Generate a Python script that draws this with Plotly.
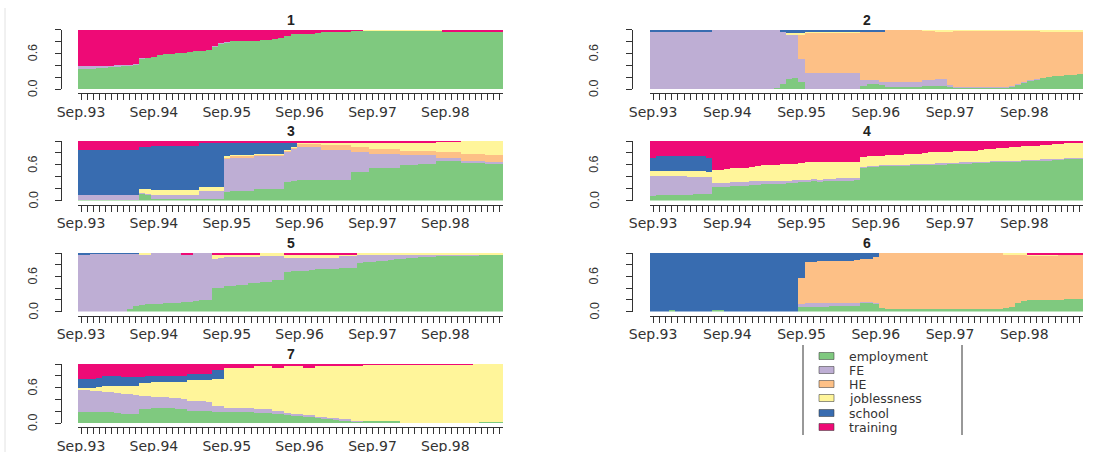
import plotly.graph_objects as go

# ---------------------------------------------------------------------------
# State distribution by month (Sep.93 - Jun.99) for seven clusters
# ---------------------------------------------------------------------------
states = ["employment", "FE", "HE", "joblessness", "school", "training"]
state_colors = ["#7FC97F", "#BEAED4", "#FDC086", "#FFF59A", "#386CB0", "#EE0A76"]

month_abbr = ["Sep", "Oct", "Nov", "Dec", "Jan", "Feb", "Mar", "Apr", "May", "Jun", "Jul", "Aug"]
periods = []
for k in range(70):
    yr = 93 + (k + 8) // 12
    periods.append(f"{month_abbr[k % 12]}.{yr % 100:02d}")
tick_labels = [p if p.startswith("Sep") else "" for p in periods]

# ---- cluster 1 -------------------------------------------------------------
c1_employment = [0.34, 0.34, 0.35, 0.36, 0.37, 0.38, 0.39, 0.40, 0.41, 0.42,
                 0.52, 0.53, 0.55, 0.58, 0.59, 0.60, 0.61, 0.62, 0.63, 0.64,
                 0.65, 0.67, 0.72, 0.77, 0.79, 0.81, 0.81, 0.81, 0.82, 0.82,
                 0.83, 0.84, 0.85, 0.86, 0.90, 0.93, 0.93, 0.94, 0.94, 0.95,
                 0.96, 0.96, 0.97, 0.97, 0.98, 0.99, 0.99, 0.99, 0.99, 0.99,
                 0.99, 0.99, 0.99, 0.99, 0.99, 0.99, 0.99, 0.99, 0.99, 0.99,
                 0.98, 0.98, 0.98, 0.98, 0.98, 0.98, 0.98, 0.98, 0.98, 0.98]
c1_FE = [0.06, 0.06, 0.05, 0.04, 0.03, 0.02, 0.02, 0.01, 0.01, 0.01,
         0.01, 0, 0, 0, 0, 0, 0, 0, 0, 0,
         0, 0, 0.01, 0.01, 0.01, 0, 0, 0, 0, 0,
         0, 0, 0, 0, 0, 0, 0, 0, 0, 0,
         0, 0, 0, 0, 0, 0, 0, 0, 0, 0,
         0, 0, 0, 0, 0, 0, 0, 0, 0, 0,
         0, 0, 0, 0, 0, 0, 0, 0, 0, 0]
c1_HE = [0, 0, 0, 0, 0, 0, 0, 0, 0, 0,
         0, 0, 0, 0, 0, 0, 0, 0, 0, 0,
         0, 0, 0, 0, 0, 0, 0, 0, 0, 0,
         0, 0, 0, 0, 0, 0, 0, 0, 0, 0,
         0, 0, 0, 0, 0, 0, 0, 0, 0, 0,
         0, 0, 0, 0, 0, 0, 0, 0, 0, 0,
         0, 0, 0, 0, 0, 0, 0, 0, 0, 0]
c1_joblessness = [0, 0, 0, 0, 0, 0, 0, 0, 0, 0,
                  0, 0, 0, 0, 0, 0, 0, 0, 0, 0,
                  0, 0, 0, 0, 0, 0, 0, 0, 0, 0,
                  0, 0, 0, 0, 0, 0, 0, 0, 0, 0,
                  0, 0, 0, 0, 0, 0, 0, 0.01, 0.01, 0.01,
                  0.01, 0.01, 0.01, 0.01, 0.01, 0.01, 0.01, 0.01, 0.01, 0.01,
                  0, 0, 0, 0, 0, 0, 0, 0, 0, 0]
c1_school = [0, 0, 0, 0, 0, 0, 0, 0, 0, 0,
             0, 0, 0, 0, 0, 0, 0, 0, 0, 0,
             0, 0, 0, 0, 0, 0, 0, 0, 0, 0,
             0, 0, 0, 0, 0, 0, 0, 0, 0, 0,
             0, 0, 0, 0, 0, 0, 0, 0, 0, 0,
             0, 0, 0, 0, 0, 0, 0, 0, 0, 0,
             0, 0, 0, 0, 0, 0, 0, 0, 0, 0]
c1_training = [0.60, 0.60, 0.60, 0.60, 0.60, 0.60, 0.59, 0.59, 0.58, 0.57,
               0.47, 0.47, 0.45, 0.42, 0.41, 0.40, 0.39, 0.38, 0.37, 0.36,
               0.35, 0.33, 0.27, 0.22, 0.20, 0.19, 0.19, 0.19, 0.18, 0.18,
               0.17, 0.16, 0.15, 0.14, 0.10, 0.07, 0.07, 0.06, 0.06, 0.05,
               0.04, 0.04, 0.03, 0.03, 0.02, 0.01, 0.01, 0, 0, 0,
               0, 0, 0, 0, 0, 0, 0, 0, 0, 0,
               0.02, 0.02, 0.02, 0.02, 0.02, 0.02, 0.02, 0.02, 0.02, 0.02]

# ---- cluster 2 -------------------------------------------------------------
c2_employment = [0, 0, 0, 0, 0, 0, 0, 0, 0, 0.01,
                 0.01, 0.01, 0, 0, 0, 0, 0, 0, 0, 0,
                 0.02, 0.10, 0.18, 0.20, 0.12, 0.01, 0.01, 0.01, 0.01, 0.01,
                 0.01, 0.01, 0.01, 0.01, 0.06, 0.10, 0.10, 0.07, 0.05, 0.05,
                 0.05, 0.05, 0.05, 0.05, 0.06, 0.06, 0.06, 0.06, 0.05, 0.03,
                 0.03, 0.03, 0.03, 0.03, 0.03, 0.04, 0.04, 0.04, 0.05, 0.08,
                 0.12, 0.15, 0.17, 0.19, 0.21, 0.22, 0.23, 0.24, 0.25, 0.26]
c2_FE = [0.98, 0.98, 0.98, 0.98, 0.98, 0.98, 0.98, 0.98, 0.98, 0.97,
         0.99, 0.99, 1.00, 1.00, 1.00, 1.00, 1.00, 1.00, 1.00, 1.00,
         0.98, 0.88, 0.74, 0.72, 0.40, 0.26, 0.26, 0.26, 0.26, 0.26,
         0.26, 0.26, 0.26, 0.26, 0.10, 0.06, 0.06, 0.06, 0.07, 0.07,
         0.07, 0.07, 0.07, 0.07, 0.10, 0.10, 0.11, 0.11, 0.03, 0.01,
         0.01, 0.01, 0.01, 0.01, 0.01, 0.01, 0.01, 0.01, 0.01, 0.01,
         0.01, 0.01, 0.01, 0, 0, 0, 0, 0, 0, 0]
c2_HE = [0, 0, 0, 0, 0, 0, 0, 0, 0, 0,
         0, 0, 0, 0, 0, 0, 0, 0, 0, 0,
         0, 0, 0, 0, 0.40, 0.68, 0.68, 0.68, 0.68, 0.68,
         0.68, 0.68, 0.68, 0.68, 0.80, 0.80, 0.80, 0.84, 0.88, 0.88,
         0.88, 0.88, 0.88, 0.88, 0.83, 0.83, 0.81, 0.81, 0.90, 0.95,
         0.95, 0.95, 0.95, 0.95, 0.95, 0.94, 0.94, 0.94, 0.93, 0.90,
         0.86, 0.83, 0.81, 0.79, 0.77, 0.76, 0.75, 0.74, 0.73, 0.72]
c2_joblessness = [0, 0, 0, 0, 0, 0, 0, 0, 0, 0,
                  0, 0, 0, 0, 0, 0, 0, 0, 0, 0,
                  0, 0, 0.03, 0.03, 0.03, 0.01, 0.01, 0.01, 0.01, 0.01,
                  0.01, 0.01, 0.01, 0.01, 0, 0, 0, 0, 0, 0,
                  0, 0, 0, 0, 0.01, 0.01, 0.02, 0.02, 0.02, 0.01,
                  0.01, 0.01, 0.01, 0.01, 0.01, 0.01, 0.01, 0.01, 0.01, 0.01,
                  0.01, 0.01, 0.01, 0.02, 0.02, 0.02, 0.02, 0.02, 0.02, 0.02]
c2_school = [0.02, 0.02, 0.02, 0.02, 0.02, 0.02, 0.02, 0.02, 0.02, 0.02,
             0, 0, 0, 0, 0, 0, 0, 0, 0, 0,
             0, 0.02, 0.05, 0.05, 0.05, 0.04, 0.04, 0.04, 0.04, 0.04,
             0.04, 0.04, 0.04, 0.04, 0.04, 0.04, 0.04, 0.03, 0, 0,
             0, 0, 0, 0, 0, 0, 0, 0, 0, 0,
             0, 0, 0, 0, 0, 0, 0, 0, 0, 0,
             0, 0, 0, 0, 0, 0, 0, 0, 0, 0]
c2_training = [0, 0, 0, 0, 0, 0, 0, 0, 0, 0,
               0, 0, 0, 0, 0, 0, 0, 0, 0, 0,
               0, 0, 0, 0, 0, 0, 0, 0, 0, 0,
               0, 0, 0, 0, 0, 0, 0, 0, 0, 0,
               0, 0, 0, 0, 0, 0, 0, 0, 0, 0,
               0, 0, 0, 0, 0, 0, 0, 0, 0, 0,
               0, 0, 0, 0, 0, 0, 0, 0, 0, 0]

# ---- cluster 3 -------------------------------------------------------------
c3_employment = [0.01, 0.01, 0.01, 0.01, 0.01, 0.01, 0.01, 0.01, 0.01, 0.01,
                 0.11, 0.10, 0.02, 0.02, 0.02, 0.02, 0.02, 0.02, 0.02, 0.02,
                 0.02, 0.02, 0.02, 0.02, 0.15, 0.16, 0.16, 0.16, 0.16, 0.20,
                 0.20, 0.20, 0.20, 0.20, 0.31, 0.33, 0.34, 0.34, 0.34, 0.34,
                 0.34, 0.34, 0.34, 0.34, 0.34, 0.48, 0.48, 0.48, 0.55, 0.55,
                 0.55, 0.55, 0.55, 0.59, 0.59, 0.59, 0.62, 0.62, 0.62, 0.67,
                 0.67, 0.67, 0.67, 0.64, 0.64, 0.64, 0.64, 0.63, 0.63, 0.63]
c3_FE = [0.08, 0.09, 0.09, 0.09, 0.09, 0.08, 0.08, 0.08, 0.08, 0.08,
         0.01, 0.01, 0.08, 0.08, 0.08, 0.08, 0.08, 0.08, 0.08, 0.08,
         0.14, 0.14, 0.14, 0.14, 0.56, 0.57, 0.57, 0.57, 0.57, 0.56,
         0.56, 0.56, 0.56, 0.56, 0.52, 0.54, 0.56, 0.56, 0.56, 0.56,
         0.51, 0.51, 0.51, 0.51, 0.51, 0.33, 0.33, 0.33, 0.24, 0.24,
         0.24, 0.24, 0.24, 0.17, 0.17, 0.17, 0.14, 0.14, 0.14, 0.04,
         0.04, 0.04, 0.04, 0.02, 0.02, 0.02, 0.02, 0.01, 0.01, 0.01]
c3_HE = [0, 0, 0, 0, 0, 0, 0, 0, 0, 0,
         0, 0, 0, 0, 0, 0, 0, 0, 0, 0,
         0, 0, 0, 0, 0.01, 0.02, 0.02, 0.02, 0.02, 0.01,
         0.01, 0.01, 0.01, 0.01, 0.01, 0.02, 0.06, 0.06, 0.06, 0.06,
         0.08, 0.08, 0.08, 0.08, 0.08, 0.09, 0.09, 0.09, 0.08, 0.08,
         0.08, 0.08, 0.08, 0.08, 0.08, 0.08, 0.08, 0.08, 0.08, 0.10,
         0.10, 0.10, 0.10, 0.12, 0.12, 0.12, 0.12, 0.13, 0.13, 0.13]
c3_joblessness = [0, 0, 0, 0, 0, 0, 0, 0, 0, 0,
                  0.07, 0.08, 0.08, 0.08, 0.08, 0.08, 0.08, 0.08, 0.08, 0.08,
                  0.06, 0.06, 0.06, 0.06, 0.02, 0.02, 0.02, 0.02, 0.02, 0.01,
                  0.01, 0.01, 0.01, 0.01, 0.01, 0.01, 0.01, 0.01, 0.01, 0.01,
                  0.04, 0.04, 0.04, 0.04, 0.04, 0.07, 0.07, 0.07, 0.10, 0.10,
                  0.10, 0.10, 0.10, 0.14, 0.14, 0.14, 0.14, 0.14, 0.14, 0.18,
                  0.18, 0.18, 0.18, 0.22, 0.22, 0.22, 0.22, 0.23, 0.23, 0.23]
c3_school = [0.76, 0.75, 0.75, 0.75, 0.75, 0.76, 0.76, 0.76, 0.76, 0.76,
             0.71, 0.71, 0.73, 0.73, 0.73, 0.73, 0.73, 0.73, 0.73, 0.73,
             0.75, 0.75, 0.75, 0.75, 0.23, 0.21, 0.21, 0.21, 0.21, 0.20,
             0.20, 0.20, 0.20, 0.20, 0.13, 0.08, 0, 0, 0, 0,
             0, 0, 0, 0, 0, 0, 0, 0, 0, 0,
             0, 0, 0, 0, 0, 0, 0, 0, 0, 0,
             0, 0, 0, 0, 0, 0, 0, 0, 0, 0]
c3_training = [0.15, 0.15, 0.15, 0.15, 0.15, 0.15, 0.15, 0.15, 0.15, 0.15,
               0.10, 0.10, 0.09, 0.09, 0.09, 0.09, 0.09, 0.09, 0.09, 0.09,
               0.03, 0.03, 0.03, 0.03, 0.03, 0.02, 0.02, 0.02, 0.02, 0.02,
               0.02, 0.02, 0.02, 0.02, 0.02, 0.02, 0.03, 0.03, 0.03, 0.03,
               0.03, 0.03, 0.03, 0.03, 0.03, 0.03, 0.03, 0.03, 0.03, 0.03,
               0.03, 0.03, 0.03, 0.02, 0.02, 0.02, 0.02, 0.02, 0.02, 0.01,
               0.01, 0.01, 0.01, 0, 0, 0, 0, 0, 0, 0]

# ---- cluster 4 -------------------------------------------------------------
c4_employment = [0.08, 0.09, 0.09, 0.09, 0.10, 0.10, 0.10, 0.11, 0.11, 0.11,
                 0.23, 0.23, 0.23, 0.24, 0.24, 0.25, 0.26, 0.26, 0.27, 0.27,
                 0.28, 0.28, 0.29, 0.30, 0.31, 0.31, 0.32, 0.32, 0.33, 0.33,
                 0.34, 0.34, 0.34, 0.35, 0.56, 0.57, 0.57, 0.58, 0.58, 0.59,
                 0.59, 0.59, 0.60, 0.60, 0.60, 0.60, 0.61, 0.61, 0.62, 0.62,
                 0.63, 0.63, 0.64, 0.64, 0.64, 0.65, 0.65, 0.65, 0.66, 0.66,
                 0.67, 0.67, 0.67, 0.68, 0.68, 0.69, 0.69, 0.70, 0.70, 0.71]
c4_FE = [0.34, 0.33, 0.33, 0.32, 0.31, 0.31, 0.30, 0.29, 0.29, 0.28,
         0.07, 0.07, 0.07, 0.07, 0.07, 0.06, 0.06, 0.06, 0.05, 0.05,
         0.05, 0.05, 0.04, 0.04, 0.04, 0.04, 0.04, 0.03, 0.03, 0.03,
         0.03, 0.03, 0.03, 0.02, 0.01, 0.01, 0.01, 0.01, 0.01, 0.01,
         0.01, 0.01, 0.01, 0.01, 0.02, 0.02, 0.02, 0.02, 0.01, 0.01,
         0.01, 0.01, 0.01, 0.01, 0.01, 0.01, 0.01, 0.01, 0.01, 0.01,
         0.01, 0.01, 0.01, 0.01, 0.01, 0.01, 0.01, 0.01, 0.01, 0.01]
c4_HE = [0, 0, 0, 0, 0, 0, 0, 0, 0, 0,
         0, 0, 0, 0, 0, 0, 0, 0, 0, 0,
         0, 0, 0, 0, 0, 0, 0, 0, 0, 0,
         0, 0, 0, 0, 0, 0, 0, 0, 0, 0,
         0, 0, 0, 0, 0, 0, 0, 0, 0, 0,
         0, 0, 0, 0, 0, 0, 0, 0, 0, 0,
         0, 0, 0, 0, 0, 0, 0, 0, 0, 0]
c4_joblessness = [0.08, 0.08, 0.08, 0.08, 0.08, 0.08, 0.09, 0.09, 0.09, 0.09,
                  0.22, 0.22, 0.23, 0.23, 0.24, 0.24, 0.25, 0.26, 0.27, 0.27,
                  0.27, 0.28, 0.28, 0.28, 0.28, 0.29, 0.29, 0.30, 0.29, 0.29,
                  0.28, 0.28, 0.28, 0.28, 0.16, 0.16, 0.17, 0.16, 0.17, 0.16,
                  0.17, 0.18, 0.18, 0.18, 0.18, 0.19, 0.19, 0.19, 0.19, 0.20,
                  0.19, 0.20, 0.19, 0.20, 0.21, 0.21, 0.22, 0.23, 0.23, 0.23,
                  0.23, 0.24, 0.24, 0.24, 0.25, 0.25, 0.25, 0.25, 0.26, 0.25]
c4_school = [0.22, 0.25, 0.25, 0.26, 0.26, 0.26, 0.26, 0.25, 0.25, 0.24,
             0, 0, 0, 0, 0, 0, 0, 0, 0, 0,
             0, 0, 0, 0, 0, 0, 0, 0, 0, 0,
             0, 0, 0, 0, 0, 0, 0, 0, 0, 0,
             0, 0, 0, 0, 0, 0, 0, 0, 0, 0,
             0, 0, 0, 0, 0, 0, 0, 0, 0, 0,
             0, 0, 0, 0, 0, 0, 0, 0, 0, 0]
c4_training = [0.28, 0.25, 0.25, 0.25, 0.25, 0.25, 0.25, 0.26, 0.26, 0.28,
               0.48, 0.48, 0.47, 0.46, 0.45, 0.45, 0.43, 0.42, 0.41, 0.41,
               0.40, 0.39, 0.39, 0.38, 0.37, 0.36, 0.35, 0.35, 0.35, 0.35,
               0.35, 0.35, 0.35, 0.35, 0.27, 0.26, 0.25, 0.25, 0.24, 0.24,
               0.23, 0.22, 0.21, 0.21, 0.20, 0.19, 0.18, 0.18, 0.18, 0.17,
               0.17, 0.16, 0.16, 0.15, 0.14, 0.13, 0.12, 0.11, 0.10, 0.10,
               0.09, 0.08, 0.08, 0.07, 0.06, 0.05, 0.05, 0.04, 0.03, 0.03]

# ---- cluster 5 -------------------------------------------------------------
c5_employment = [0, 0, 0, 0, 0, 0, 0, 0, 0.04, 0.10,
                 0.11, 0.12, 0.13, 0.13, 0.14, 0.15, 0.15, 0.16, 0.17, 0.18,
                 0.19, 0.20, 0.40, 0.41, 0.43, 0.44, 0.45, 0.46, 0.48, 0.49,
                 0.50, 0.51, 0.53, 0.54, 0.68, 0.69, 0.69, 0.70, 0.71, 0.72,
                 0.72, 0.73, 0.73, 0.74, 0.74, 0.75, 0.83, 0.84, 0.85, 0.86,
                 0.87, 0.88, 0.89, 0.90, 0.91, 0.92, 0.93, 0.94, 0.94, 0.95,
                 0.95, 0.95, 0.96, 0.96, 0.96, 0.96, 0.97, 0.97, 0.97, 0.97]
c5_FE = [0.96, 0.98, 0.99, 0.99, 0.99, 0.99, 0.99, 0.99, 0.95, 0.89,
         0.86, 0.85, 0.87, 0.87, 0.86, 0.85, 0.85, 0.81, 0.80, 0.82,
         0.81, 0.80, 0.50, 0.51, 0.51, 0.50, 0.49, 0.48, 0.46, 0.45,
         0.45, 0.44, 0.42, 0.41, 0.24, 0.23, 0.23, 0.22, 0.21, 0.20,
         0.20, 0.20, 0.20, 0.21, 0.21, 0.20, 0.15, 0.14, 0.13, 0.12,
         0.11, 0.10, 0.09, 0.08, 0.07, 0.06, 0.05, 0.04, 0.04, 0.03,
         0.03, 0.03, 0.02, 0.02, 0.02, 0.02, 0.01, 0.01, 0.01, 0.01]
c5_HE = [0, 0, 0, 0, 0, 0, 0, 0, 0, 0,
         0, 0, 0, 0, 0, 0, 0, 0, 0, 0,
         0, 0, 0, 0, 0, 0, 0, 0, 0, 0,
         0, 0, 0, 0, 0, 0, 0, 0, 0, 0,
         0, 0, 0, 0, 0, 0, 0, 0, 0, 0,
         0, 0, 0, 0, 0, 0, 0, 0, 0, 0,
         0, 0, 0, 0, 0, 0, 0, 0, 0, 0]
c5_joblessness = [0, 0, 0, 0, 0, 0, 0, 0, 0, 0,
                  0.03, 0.03, 0, 0, 0, 0, 0, 0, 0, 0,
                  0, 0, 0.06, 0.04, 0.02, 0.02, 0.02, 0.02, 0.02, 0.02,
                  0.05, 0.05, 0.05, 0.05, 0.04, 0.04, 0.04, 0.04, 0.04, 0.04,
                  0.04, 0.03, 0.03, 0.02, 0.02, 0.02, 0.02, 0.02, 0.02, 0.02,
                  0.02, 0.02, 0.02, 0.02, 0.02, 0.02, 0.02, 0.02, 0.02, 0.02,
                  0.02, 0.02, 0.02, 0.02, 0.02, 0.02, 0.02, 0.02, 0.02, 0.02]
c5_school = [0.04, 0.02, 0.01, 0.01, 0.01, 0.01, 0.01, 0.01, 0.01, 0.01,
             0, 0, 0, 0, 0, 0, 0, 0, 0, 0,
             0, 0, 0, 0, 0, 0, 0, 0, 0, 0,
             0, 0, 0, 0, 0, 0, 0, 0, 0, 0,
             0, 0, 0, 0, 0, 0, 0, 0, 0, 0,
             0, 0, 0, 0, 0, 0, 0, 0, 0, 0,
             0, 0, 0, 0, 0, 0, 0, 0, 0, 0]
c5_training = [0, 0, 0, 0, 0, 0, 0, 0, 0, 0,
               0, 0, 0, 0, 0, 0, 0, 0.03, 0.03, 0,
               0, 0, 0.04, 0.04, 0.04, 0.04, 0.04, 0.04, 0.04, 0.04,
               0, 0, 0, 0, 0.04, 0.04, 0.04, 0.04, 0.04, 0.04,
               0.04, 0.04, 0.04, 0.03, 0.03, 0.03, 0, 0, 0, 0,
               0, 0, 0, 0, 0, 0, 0, 0, 0, 0,
               0, 0, 0, 0, 0, 0, 0, 0, 0, 0]

# ---- cluster 6 -------------------------------------------------------------
c6_employment = [0, 0, 0, 0.03, 0, 0, 0, 0, 0, 0,
                 0.03, 0.03, 0, 0, 0, 0, 0, 0, 0, 0,
                 0, 0, 0, 0, 0.08, 0.08, 0.08, 0.08, 0.08, 0.09,
                 0.09, 0.09, 0.09, 0.10, 0.15, 0.15, 0.14, 0.06, 0.05, 0.05,
                 0.05, 0.05, 0.05, 0.05, 0.05, 0.04, 0.04, 0.04, 0.04, 0.04,
                 0.04, 0.05, 0.05, 0.05, 0.05, 0.05, 0.05, 0.06, 0.07, 0.14,
                 0.18, 0.19, 0.19, 0.20, 0.20, 0.20, 0.20, 0.21, 0.21, 0.22]
c6_FE = [0, 0, 0, 0, 0, 0, 0, 0, 0, 0,
         0, 0, 0, 0, 0, 0, 0, 0, 0, 0,
         0, 0, 0, 0, 0.04, 0.06, 0.06, 0.06, 0.06, 0.05,
         0.05, 0.05, 0.05, 0.05, 0.02, 0.02, 0.01, 0, 0, 0,
         0, 0, 0, 0, 0, 0, 0, 0, 0, 0,
         0, 0, 0, 0, 0, 0, 0, 0, 0, 0,
         0, 0, 0, 0, 0, 0, 0, 0, 0, 0]
c6_HE = [0, 0, 0, 0, 0, 0, 0, 0, 0, 0,
         0, 0, 0, 0, 0, 0, 0, 0, 0, 0,
         0, 0, 0, 0, 0.46, 0.71, 0.71, 0.72, 0.72, 0.72,
         0.72, 0.73, 0.73, 0.73, 0.72, 0.72, 0.79, 0.94, 0.95, 0.95,
         0.95, 0.95, 0.95, 0.95, 0.95, 0.96, 0.96, 0.96, 0.96, 0.96,
         0.96, 0.95, 0.95, 0.95, 0.95, 0.95, 0.95, 0.91, 0.90, 0.83,
         0.79, 0.76, 0.76, 0.75, 0.75, 0.75, 0.76, 0.75, 0.75, 0.74]
c6_joblessness = [0, 0, 0, 0, 0, 0, 0, 0, 0, 0,
                  0, 0, 0, 0, 0, 0, 0, 0, 0, 0,
                  0, 0, 0, 0, 0, 0, 0, 0, 0, 0,
                  0, 0, 0, 0, 0, 0, 0, 0, 0, 0,
                  0, 0, 0, 0, 0, 0, 0, 0, 0, 0,
                  0, 0, 0, 0, 0, 0, 0, 0.03, 0.03, 0.03,
                  0.03, 0.01, 0.01, 0.01, 0.01, 0.01, 0, 0, 0, 0]
c6_school = [1.00, 1.00, 1.00, 0.97, 1.00, 1.00, 1.00, 1.00, 1.00, 1.00,
             0.97, 0.97, 1.00, 1.00, 1.00, 1.00, 1.00, 1.00, 1.00, 1.00,
             1.00, 1.00, 1.00, 1.00, 0.42, 0.15, 0.15, 0.14, 0.14, 0.14,
             0.14, 0.13, 0.13, 0.12, 0.11, 0.11, 0.06, 0, 0, 0,
             0, 0, 0, 0, 0, 0, 0, 0, 0, 0,
             0, 0, 0, 0, 0, 0, 0, 0, 0, 0,
             0, 0, 0, 0, 0, 0, 0, 0, 0, 0]
c6_training = [0, 0, 0, 0, 0, 0, 0, 0, 0, 0,
               0, 0, 0, 0, 0, 0, 0, 0, 0, 0,
               0, 0, 0, 0, 0, 0, 0, 0, 0, 0,
               0, 0, 0, 0, 0, 0, 0, 0, 0, 0,
               0, 0, 0, 0, 0, 0, 0, 0, 0, 0,
               0, 0, 0, 0, 0, 0, 0, 0, 0, 0,
               0, 0.04, 0.04, 0.04, 0.04, 0.04, 0.04, 0.04, 0.04, 0.04]

# ---- cluster 7 -------------------------------------------------------------
c7_employment = [0.19, 0.19, 0.19, 0.18, 0.18, 0.18, 0.17, 0.16, 0.16, 0.16,
                 0.24, 0.24, 0.25, 0.25, 0.25, 0.25, 0.24, 0.23, 0.21, 0.21,
                 0.21, 0.20, 0.19, 0.19, 0.18, 0.18, 0.18, 0.18, 0.18, 0.17,
                 0.17, 0.17, 0.15, 0.15, 0.13, 0.13, 0.12, 0.11, 0.11, 0.09,
                 0.08, 0.07, 0.06, 0.05, 0.04, 0.03, 0.03, 0.03, 0.03, 0.03,
                 0.03, 0.03, 0.03, 0, 0, 0, 0, 0, 0, 0,
                 0, 0, 0, 0, 0, 0, 0.01, 0.02, 0.02, 0.02]
c7_FE = [0.37, 0.37, 0.36, 0.36, 0.35, 0.34, 0.34, 0.33, 0.33, 0.32,
         0.22, 0.21, 0.19, 0.19, 0.19, 0.18, 0.18, 0.18, 0.17, 0.17,
         0.16, 0.16, 0.10, 0.10, 0.07, 0.07, 0.07, 0.07, 0.07, 0.06,
         0.06, 0.06, 0.05, 0.05, 0.04, 0.03, 0.03, 0.03, 0.03, 0.02,
         0.02, 0.02, 0.02, 0.02, 0.02, 0.01, 0.01, 0, 0, 0,
         0, 0, 0, 0, 0, 0, 0, 0, 0, 0,
         0, 0, 0, 0, 0, 0, 0, 0, 0, 0]
c7_HE = [0, 0, 0, 0, 0, 0, 0, 0, 0, 0,
         0, 0, 0, 0, 0, 0, 0, 0, 0, 0,
         0, 0, 0, 0, 0, 0, 0, 0, 0, 0,
         0, 0, 0, 0, 0, 0, 0, 0, 0, 0,
         0, 0, 0, 0, 0, 0, 0, 0, 0, 0,
         0, 0, 0, 0, 0, 0, 0, 0, 0, 0,
         0, 0, 0, 0, 0, 0, 0, 0, 0, 0]
c7_joblessness = [0.03, 0.03, 0.05, 0.07, 0.09, 0.10, 0.11, 0.13, 0.13, 0.14,
                  0.21, 0.23, 0.26, 0.26, 0.26, 0.27, 0.28, 0.29, 0.35, 0.35,
                  0.36, 0.37, 0.45, 0.45, 0.68, 0.68, 0.69, 0.69, 0.69, 0.73,
                  0.73, 0.73, 0.73, 0.73, 0.79, 0.80, 0.81, 0.79, 0.79, 0.86,
                  0.87, 0.88, 0.89, 0.90, 0.91, 0.93, 0.93, 0.96, 0.96, 0.96,
                  0.96, 0.96, 0.96, 0.99, 0.99, 0.99, 0.99, 0.99, 0.99, 0.99,
                  0.99, 0.99, 0.99, 0.99, 0.99, 1.00, 0.99, 0.98, 0.98, 0.98]
c7_school = [0.15, 0.15, 0.15, 0.16, 0.17, 0.17, 0.17, 0.16, 0.16, 0.16,
             0.11, 0.11, 0.10, 0.10, 0.10, 0.10, 0.10, 0.10, 0.10, 0.10,
             0.10, 0.10, 0.16, 0.16, 0, 0, 0, 0, 0, 0,
             0, 0, 0, 0, 0, 0, 0, 0, 0, 0,
             0, 0, 0, 0, 0, 0, 0, 0, 0, 0,
             0, 0, 0, 0, 0, 0, 0, 0, 0, 0,
             0, 0, 0, 0, 0, 0, 0, 0, 0, 0]
c7_training = [0.26, 0.26, 0.25, 0.23, 0.21, 0.21, 0.21, 0.22, 0.22, 0.22,
               0.22, 0.21, 0.20, 0.20, 0.20, 0.20, 0.20, 0.20, 0.17, 0.17,
               0.17, 0.17, 0.10, 0.10, 0.07, 0.07, 0.06, 0.06, 0.06, 0.04,
               0.04, 0.04, 0.07, 0.07, 0.04, 0.04, 0.04, 0.07, 0.07, 0.03,
               0.03, 0.03, 0.03, 0.03, 0.03, 0.03, 0.03, 0.01, 0.01, 0.01,
               0.01, 0.01, 0.01, 0.01, 0.01, 0.01, 0.01, 0.01, 0.01, 0.01,
               0.01, 0.01, 0.01, 0.01, 0.01, 0, 0, 0, 0, 0]

clusters = [
    ("1", [c1_employment, c1_FE, c1_HE, c1_joblessness, c1_school, c1_training]),
    ("2", [c2_employment, c2_FE, c2_HE, c2_joblessness, c2_school, c2_training]),
    ("3", [c3_employment, c3_FE, c3_HE, c3_joblessness, c3_school, c3_training]),
    ("4", [c4_employment, c4_FE, c4_HE, c4_joblessness, c4_school, c4_training]),
    ("5", [c5_employment, c5_FE, c5_HE, c5_joblessness, c5_school, c5_training]),
    ("6", [c6_employment, c6_FE, c6_HE, c6_joblessness, c6_school, c6_training]),
    ("7", [c7_employment, c7_FE, c7_HE, c7_joblessness, c7_school, c7_training]),
]

# ---------------------------------------------------------------------------
# Page geometry (pixels)
# ---------------------------------------------------------------------------
W, H = 1109, 452
col_x = [(78, 503), (650, 1083)]          # bar area left/right per column
col_axis = [61, 632]                      # y-axis line position per column
col_ylab = [33, 594]                      # centre of the rotated y tick labels
row_y = [(29.5, 89), (141, 200.5), (253, 311.5), (364, 423)]   # top/bottom per row
y_ticks = [0, 0.2, 0.4, 0.6, 0.8, 1.0]
y_tick_text = ["0.0", "", "", "0.6", "", ""]

TXT = "#333333"
tick_font = dict(family="DejaVu Sans", size=14, color=TXT)
ytick_font = dict(family="Liberation Sans", size=12.5, color=TXT)


def px_x(v):
    return v / W


def px_y(v):
    return 1 - v / H


fig = go.Figure()
layout_axes = {}
annotations = []

for idx, (title, series) in enumerate(clusters):
    col = idx % 2
    row = idx // 2
    n = idx + 1
    xname = "x" if n == 1 else f"x{n}"
    yname = "y" if n == 1 else f"y{n}"
    for state, color, vals in zip(states, state_colors, series):
        fig.add_trace(go.Bar(
            x=list(range(len(periods))), y=vals, name=state,
            marker=dict(color=color, line=dict(width=0)),
            xaxis=xname, yaxis=yname, showlegend=False, hoverinfo="skip",
        ))
    x0, x1 = col_x[col]
    top, bot = row_y[row]
    layout_axes["xaxis" if n == 1 else f"xaxis{n}"] = dict(
        domain=[px_x(x0), px_x(x1)], range=[-0.5, len(periods) - 0.5],
        anchor="free", position=px_y(bot + 4), automargin=False,
        showline=True, linecolor=TXT, linewidth=1,
        ticks="outside", ticklen=6, tickwidth=1, tickcolor=TXT,
        tickvals=list(range(len(periods))), ticktext=tick_labels,
        tickangle=0, tickfont=tick_font,
        showgrid=False, zeroline=False, fixedrange=True,
    )
    layout_axes["yaxis" if n == 1 else f"yaxis{n}"] = dict(
        domain=[px_y(bot), px_y(top)], range=[0, 1],
        anchor="free", position=px_x(col_axis[col]), automargin=False,
        showline=True, linecolor=TXT, linewidth=1,
        ticks="outside", ticklen=6, tickwidth=1, tickcolor=TXT,
        tickvals=y_ticks, showticklabels=False,
        showgrid=False, zeroline=False, fixedrange=True,
    )
    # rotated y tick labels, placed at their tick values
    for tv, tt in zip(y_ticks, y_tick_text):
        if tt:
            annotations.append(dict(
                text=tt, xref="paper", yref=f"{yname} domain",
                x=px_x(col_ylab[col]), y=tv, textangle=-90,
                xanchor="center", yanchor="middle", showarrow=False,
                font=ytick_font,
            ))
    annotations.append(dict(
        text=f"<b>{title}</b>", xref="paper", yref="paper",
        x=px_x((x0 + x1) / 2), y=px_y(top - 10),
        xanchor="center", yanchor="middle", showarrow=False,
        font=dict(family="Liberation Sans", size=14, color="#222222"),
    ))

# ---------------------------------------------------------------------------
# State legend (drawn as shapes + text)
# ---------------------------------------------------------------------------
shapes = []
legend_rows = [356, 370, 384, 398, 413, 427]
for state, color, yc in zip(states, state_colors, legend_rows):
    shapes.append(dict(
        type="rect", xref="paper", yref="paper",
        x0=px_x(819), x1=px_x(834), y0=px_y(yc + 3.5), y1=px_y(yc - 3.5),
        fillcolor=color, line=dict(color="rgba(60,60,60,0.55)", width=1),
    ))
    annotations.append(dict(
        text=state, xref="paper", yref="paper", x=px_x(847), y=px_y(yc),
        xanchor="left", yanchor="middle", showarrow=False,
        font=dict(family="DejaVu Sans", size=12.5, color=TXT),
    ))
for lx in (803, 962):
    shapes.append(dict(
        type="line", xref="paper", yref="paper",
        x0=px_x(lx), x1=px_x(lx), y0=px_y(345), y1=px_y(435),
        line=dict(color=TXT, width=1),
    ))
# faint page rule on the far left
shapes.append(dict(
    type="line", xref="paper", yref="paper",
    x0=px_x(5), x1=px_x(5), y0=px_y(8), y1=0,
    line=dict(color="#e2e2e2", width=1),
))

fig.update_layout(
    width=W, height=H, margin=dict(l=0, r=0, t=0, b=0, autoexpand=False),
    barmode="stack", bargap=0,
    plot_bgcolor="white", paper_bgcolor="white",
    showlegend=False, annotations=annotations, shapes=shapes,
    **layout_axes,
)

fig.write_html("out.html")
